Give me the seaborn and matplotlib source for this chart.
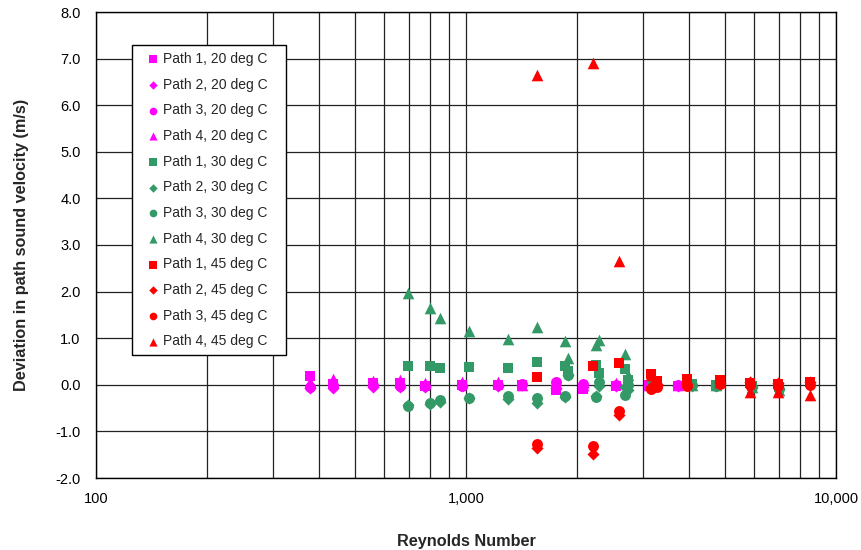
import numpy as np
import pandas as pd
import matplotlib
matplotlib.use("Agg")
import matplotlib.pyplot as plt
from matplotlib.ticker import FixedLocator, FuncFormatter, NullFormatter, LogLocator
import seaborn as sns

# Reynolds numbers at which each water temperature was run
re_20 = [379, 437, 561, 663, 775, 976, 1221, 1417, 1751, 2071, 2543, 3123, 3741]
re_30 = [697, 799, 851, 1019, 1299, 1556, 1852, 1887, 2245, 2288, 2690, 2741,
         3182, 4081, 4739, 5929, 7015]
re_45 = [1556, 2204, 2591, 3162, 3282, 3956, 4858, 5855, 6969, 8506]

# Deviation in path sound velocity (m/s), per path
p1_20 = [0.19, 0.02, 0.03, 0.03, -0.02, 0.00, -0.01, 0.00, -0.12, -0.08, -0.02, 0.00, -0.02]
p2_20 = [-0.07, -0.06, -0.05, -0.04, -0.05, -0.03, -0.02, 0.00, -0.06, -0.04, -0.03, -0.02, -0.02]
p3_20 = [-0.04, -0.02, -0.01, -0.02, -0.03, -0.02, 0.00, 0.01, 0.05, 0.02, 0.00, 0.00, 0.00]
p4_20 = [0.06, 0.12, 0.08, 0.10, 0.04, 0.06, 0.05, 0.00, 0.02, 0.00, 0.03, 0.00, 0.00]

p1_30 = [0.41, 0.41, 0.36, 0.38, 0.36, 0.49, 0.40, 0.30, 0.43, 0.25, 0.34, 0.10,
         0.00, 0.02, 0.00, -0.03, -0.05]
p2_30 = [-0.43, -0.42, -0.36, -0.29, -0.30, -0.38, -0.27, 0.20, -0.25, -0.02, -0.05, -0.12,
         -0.02, -0.02, -0.03, -0.05, -0.08]
p3_30 = [-0.45, -0.39, -0.33, -0.28, -0.25, -0.28, -0.24, 0.22, -0.27, 0.05, -0.21, 0.00,
         0.00, 0.00, -0.02, -0.04, -0.08]
p4_30 = [1.97, 1.65, 1.44, 1.15, 0.99, 1.25, 0.95, 0.58, 0.86, 0.97, 0.66, 0.20,
         0.02, 0.00, 0.00, -0.05, -0.12]

p1_45 = [0.17, 0.41, 0.47, 0.24, 0.08, 0.12, 0.10, 0.03, 0.02, 0.05]
p2_45 = [-1.35, -1.48, -0.65, -0.05, 0.02, 0.02, 0.03, 0.05, 0.03, 0.07]
p3_45 = [-1.27, -1.31, -0.57, -0.10, -0.05, -0.03, 0.02, 0.00, -0.02, 0.00]
p4_45 = [6.65, 6.90, 2.65, 0.20, 0.08, 0.08, 0.05, -0.15, -0.15, -0.22]

y_ticks = [-2.0, -1.0, 0.0, 1.0, 2.0, 3.0, 4.0, 5.0, 6.0, 7.0, 8.0]
x_ticks = [100, 1000, 10000]

colors = {"20": "#FF00FF", "30": "#339966", "45": "#FF0000"}
markers = {"1": "s", "2": "D", "3": "o", "4": "^"}
sizes = {"s": 62, "D": 38, "o": 62, "^": 70}

series = [
    ("1", "20", re_20, p1_20), ("2", "20", re_20, p2_20),
    ("3", "20", re_20, p3_20), ("4", "20", re_20, p4_20),
    ("1", "30", re_30, p1_30), ("2", "30", re_30, p2_30),
    ("3", "30", re_30, p3_30), ("4", "30", re_30, p4_30),
    ("1", "45", re_45, p1_45), ("2", "45", re_45, p2_45),
    ("3", "45", re_45, p3_45), ("4", "45", re_45, p4_45),
]

sns.set_style("white")
plt.rcParams["font.family"] = ["Liberation Sans", "DejaVu Sans"]

fig = plt.figure(figsize=(8.61, 5.5), dpi=100)
ax = fig.add_axes([96 / 861, 1 - 478 / 550, 740 / 861, 466 / 550])

for path, temp, re_vals, dev in series:
    df = pd.DataFrame({"Re": re_vals, "dev": dev})
    mk = markers[path]
    sns.scatterplot(data=df, x="Re", y="dev", ax=ax, color=colors[temp],
                    marker=mk, s=sizes[mk], linewidth=0,
                    label=f"Path {path}, {temp} deg C", zorder=3)

ax.set_xscale("log")
ax.set_xlim(100, 10000)
ax.set_ylim(-2.0, 8.0)

ax.xaxis.set_major_locator(FixedLocator(x_ticks))
ax.xaxis.set_major_formatter(FuncFormatter(lambda v, p: f"{int(round(v)):,}"))
ax.xaxis.set_minor_locator(LogLocator(base=10, subs=np.arange(2, 10)))
ax.xaxis.set_minor_formatter(NullFormatter())
ax.yaxis.set_major_locator(FixedLocator(y_ticks))
ax.yaxis.set_major_formatter(FuncFormatter(lambda v, p: f"{v:.1f}"))

grid_kw = dict(color="#222222", linewidth=0.9)
ax.grid(True, which="major", axis="both", **grid_kw)
ax.grid(True, which="minor", axis="x", **grid_kw)
ax.set_axisbelow(True)

for sp in ax.spines.values():
    sp.set_color("black")
    sp.set_linewidth(1.0)

ax.tick_params(axis="both", which="major", direction="out", length=4, width=1,
               color="black", labelsize=10.5, labelcolor="black")
ax.tick_params(axis="x", which="major", pad=6)
ax.tick_params(axis="y", which="major", pad=7)
ax.tick_params(axis="x", which="minor", length=0)

ax.set_xlabel("Reynolds Number", fontsize=11.7, fontweight="bold", labelpad=20)
ax.set_ylabel("Deviation in path sound velocity (m/s)", fontsize=11.7,
              fontweight="bold", labelpad=19)

# Legend box placed over the upper-left part of the plot area
leg = ax.legend(loc="upper left",
                bbox_to_anchor=(36 / 740, 125 / 466, 154 / 740, 308 / 466),
                mode="expand", borderaxespad=0, fontsize=10, frameon=True,
                fancybox=False, edgecolor="black", framealpha=1,
                labelspacing=0.84, handlelength=2.0, handletextpad=-0.3,
                borderpad=0.5, markerscale=0.7)
leg.get_frame().set_linewidth(1.0)

fig.savefig("out.png", dpi=100, facecolor="white")
